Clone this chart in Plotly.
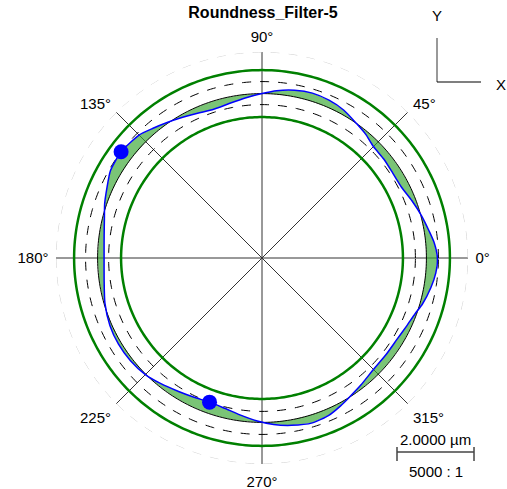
import numpy as np
import plotly.graph_objects as go

# measured profile: angle (deg) and radial deviation from the LS reference circle (um)
angles = [0, 5, 9, 15, 21, 27, 33, 39, 45, 50, 55, 61, 67, 73, 79, 85, 90, 96, 102, 108,
          114, 120, 125, 130, 135, 143, 150, 156, 161, 166, 172, 180, 188, 196, 204, 211,
          218, 225, 231, 238, 244, 250, 256, 262, 268, 274, 280, 287, 293, 298, 302, 308,
          315, 322, 329, 335, 340, 344, 350, 355, 360]
deviation_um = [0.286, 0.221, 0.130, 0.013, -0.104, -0.208, -0.221, -0.195, -0.177, -0.078,
                0.0, 0.117, 0.182, 0.208, 0.169, 0.091, 0.0, -0.091, -0.169, -0.208,
                -0.156, -0.065, 0.026, 0.130, 0.247, 0.312, 0.273, 0.143, 0.052, -0.052,
                -0.130, -0.169, -0.130, -0.026, 0.052, 0.078, 0.065, 0.013, -0.078, -0.182,
                -0.247, -0.286, -0.247, -0.156, -0.039, 0.065, 0.143, 0.208, 0.169, 0.078,
                0.0, -0.091, -0.177, -0.187, -0.177, -0.117, -0.039, 0.065, 0.182, 0.260,
                0.286]

tick_angles = [0, 45, 90, 135, 180, 225, 270, 315]
tolerance_um = 0.61
scale_bar_um = 2.0
magnification = "5000 : 1"

BASE_R = 4.27   # plotted radius of the reference circle
RING_R = 5.35   # outer dashed ring
W, H = 507, 489

r_profile = [BASE_R + d for d in deviation_um]
peak = max(deviation_um)
valley = min(deviation_um)
i_max = deviation_um.index(peak)
i_min = deviation_um.index(valley)

circ = np.linspace(0, 360, 361)


def ring(r, color, width, dash="solid"):
    return go.Scatterpolar(r=[r] * len(circ), theta=circ, mode="lines",
                           line=dict(color=color, width=width, dash=dash),
                           hoverinfo="skip", showlegend=False)


fig = go.Figure()
fig.add_trace(ring(RING_R, "#cccccc", 1, "dash"))
fig.add_trace(ring(BASE_R + tolerance_um, "#008000", 2.5))
fig.add_trace(ring(BASE_R - tolerance_um, "#008000", 2.5))
fig.add_trace(ring(BASE_R + peak, "black", 1, "dash"))
fig.add_trace(ring(BASE_R + valley, "black", 1, "dash"))

# hatched area between profile and reference circle
fig.add_trace(go.Scatterpolar(
    r=r_profile + [BASE_R] * len(angles), theta=angles + angles[::-1],
    mode="lines", fill="toself", fillcolor="rgba(50,165,45,0.65)",
    line=dict(width=0), hoverinfo="skip", showlegend=False))
fig.add_trace(ring(BASE_R, "black", 1))

fig.add_trace(go.Scatterpolar(
    r=r_profile, theta=angles, mode="lines",
    line=dict(color="#0000ff", width=1.5, shape="spline", smoothing=0.6),
    showlegend=False))
fig.add_trace(go.Scatterpolar(
    r=[r_profile[i_max], r_profile[i_min]], theta=[angles[i_max], angles[i_min]],
    mode="markers", marker=dict(color="#0000ff", size=15), showlegend=False))

cx, cy = 262, 258
rad = 206
fig.update_layout(
    width=W, height=H,
    margin=dict(l=0, r=0, t=0, b=0),
    paper_bgcolor="white",
    font=dict(family="Liberation Sans, Arial", color="black"),
    title=dict(text="<b>Roundness_Filter-5</b>", x=263 / W, xanchor="center",
               y=1 - 12 / H, yanchor="middle", yref="container",
               font=dict(size=16, color="black")),
    polar=dict(
        domain=dict(x=[(cx - rad) / W, (cx + rad) / W],
                    y=[(H - cy - rad) / H, (H - cy + rad) / H]),
        bgcolor="white",
        radialaxis=dict(range=[0, RING_R], showgrid=False, showline=False,
                        showticklabels=False, ticks=""),
        angularaxis=dict(tickmode="array", tickvals=tick_angles,
                         ticktext=[f"{a}°" for a in tick_angles],
                         direction="counterclockwise", rotation=0,
                         showline=False, showgrid=True, gridcolor="#333333", gridwidth=1,
                         ticks="outside", ticklen=4, tickcolor="rgba(0,0,0,0)",
                         tickfont=dict(size=15, color="black")),
    ),
)

# X / Y orientation marker
fig.add_shape(type="line", xref="paper", yref="paper",
              x0=437 / W, x1=437 / W, y0=1 - 38 / H, y1=1 - 82 / H,
              line=dict(color="#777777", width=1.5))
fig.add_shape(type="line", xref="paper", yref="paper",
              x0=437 / W, x1=481 / W, y0=1 - 82 / H, y1=1 - 82 / H,
              line=dict(color="black", width=1.2))
fig.add_annotation(text="Y", xref="paper", yref="paper", x=437 / W, y=1 - 16 / H,
                   showarrow=False, font=dict(size=15), xanchor="center", yanchor="middle")
fig.add_annotation(text="X", xref="paper", yref="paper", x=494 / W, y=1 - 85 / H,
                   showarrow=False, font=dict(size=15), xanchor="left", yanchor="middle")

# scale bar: length follows the radial scale
px_per_um = rad / RING_R
bar_len = scale_bar_um * px_per_um
bx0, by = 397, 452
fig.add_shape(type="line", xref="paper", yref="paper",
              x0=bx0 / W, x1=(bx0 + bar_len) / W, y0=1 - by / H, y1=1 - by / H,
              line=dict(color="#444444", width=1.5))
for xe in (bx0, bx0 + bar_len):
    fig.add_shape(type="line", xref="paper", yref="paper",
                  x0=xe / W, x1=xe / W, y0=1 - 447 / H, y1=1 - 461 / H,
                  line=dict(color="#444444", width=1.5))
fig.add_annotation(text=f"{scale_bar_um:.4f} µm", xref="paper", yref="paper",
                   x=(bx0 + bar_len / 2) / W, y=1 - 439 / H, showarrow=False,
                   font=dict(size=15), xanchor="center", yanchor="middle")
fig.add_annotation(text=magnification, xref="paper", yref="paper",
                   x=(bx0 + bar_len / 2) / W, y=1 - 471 / H, showarrow=False,
                   font=dict(size=15), xanchor="center", yanchor="middle")

# drop the default page margin so the figure fills the window
fig.write_html("out.html", config={"displayModeBar": False},
               post_script="document.body.style.margin='0';")
